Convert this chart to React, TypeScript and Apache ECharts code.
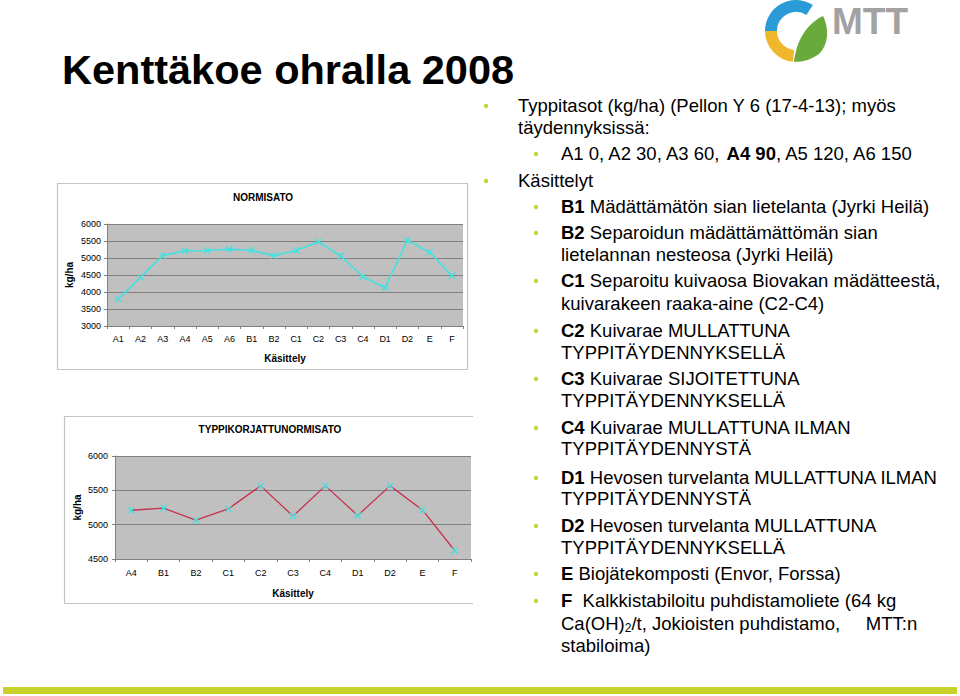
import React, { useEffect, useRef } from "react";
import * as echarts from "echarts";

// ---------- data ----------
const topCategories = ["A1", "A2", "A3", "A4", "A5", "A6", "B1", "B2", "C1", "C2", "C3", "C4", "D1", "D2", "E", "F"];
const topValues = [3790, 4430, 5070, 5210, 5220, 5260, 5220, 5070, 5220, 5480, 5060, 4450, 4125, 5520, 5170, 4480];
const bottomCategories = ["A4", "B1", "B2", "C1", "C2", "C3", "C4", "D1", "D2", "E", "F"];
const bottomValues = [5210, 5240, 5065, 5230, 5565, 5125, 5565, 5135, 5565, 5215, 4620];

const topTitle = "NORMISATO";
const bottomTitle = "TYPPIKORJATTUNORMISATO";
const yAxisName = "kg/ha";
const xAxisName = "Käsittely";
const slideTitle = "Kenttäkoe ohralla 2008";

type Seg = [string, string];
type Line = { level: 1 | 2; y: number; bullet?: boolean; parts: Seg[] };
const textLines: Line[] = [
  { level: 1, y: 105, bullet: true, parts: [["n", "Typpitasot (kg/ha) (Pellon Y 6 (17-4-13); myös"]] },
  { level: 1, y: 127, parts: [["n", "täydennyksissä:"]] },
  { level: 2, y: 153, bullet: true, parts: [["n", "A1 0, A2 30, A3 60, "], ["b", "A4 90"], ["n", ", A5 120, A6 150"]] },
  { level: 1, y: 180, bullet: true, parts: [["n", "Käsittelyt"]] },
  { level: 2, y: 206, bullet: true, parts: [["b", "B1"], ["n", " Mädättämätön sian lietelanta (Jyrki Heilä)"]] },
  { level: 2, y: 232, bullet: true, parts: [["b", "B2"], ["n", " Separoidun mädättämättömän sian"]] },
  { level: 2, y: 254, parts: [["n", "lietelannan nesteosa (Jyrki Heilä)"]] },
  { level: 2, y: 280, bullet: true, parts: [["b", "C1"], ["n", " Separoitu kuivaosa Biovakan mädätteestä,"]] },
  { level: 2, y: 303, parts: [["n", "kuivarakeen raaka-aine (C2-C4)"]] },
  { level: 2, y: 330, bullet: true, parts: [["b", "C2"], ["n", " Kuivarae MULLATTUNA"]] },
  { level: 2, y: 352, parts: [["n", "TYPPITÄYDENNYKSELLÄ"]] },
  { level: 2, y: 378, bullet: true, parts: [["b", "C3"], ["n", " Kuivarae SIJOITETTUNA"]] },
  { level: 2, y: 400, parts: [["n", "TYPPITÄYDENNYKSELLÄ"]] },
  { level: 2, y: 427, bullet: true, parts: [["b", "C4"], ["n", " Kuivarae MULLATTUNA ILMAN"]] },
  { level: 2, y: 448, parts: [["n", "TYPPITÄYDENNYSTÄ"]] },
  { level: 2, y: 477, bullet: true, parts: [["b", "D1"], ["n", " Hevosen turvelanta MULLATTUNA ILMAN"]] },
  { level: 2, y: 498, parts: [["n", "TYPPITÄYDENNYSTÄ"]] },
  { level: 2, y: 525, bullet: true, parts: [["b", "D2"], ["n", " Hevosen turvelanta MULLATTUNA"]] },
  { level: 2, y: 547, parts: [["n", "TYPPITÄYDENNYKSELLÄ"]] },
  { level: 2, y: 573, bullet: true, parts: [["b", "E"], ["n", " Biojätekomposti (Envor, Forssa)"]] },
  { level: 2, y: 600, bullet: true, parts: [["b", "F"], ["n", "  Kalkkistabiloitu puhdistamoliete (64 kg"]] },
  { level: 2, y: 623, parts: [["n", "Ca(OH)"], ["s", "2"], ["n", "/t, Jokioisten puhdistamo,     MTT:n"]] },
  { level: 2, y: 645, parts: [["n", "stabiloima)"]] },
];

const FONT = '"Liberation Sans", Arial, Helvetica, sans-serif';

const leafPath = "M794 62 C796 42 806 24 823 16 C829 28 829 44 819 54 C812 59 804 62 794 62 Z";
echarts.graphic.registerShape("leaf", (echarts.graphic as any).extendPath(leafPath, {}));

const crossSymbol = "path://M0,0L10,10M10,0L0,10";

function axisCommon() {
  return {
    axisLine: { show: true, lineStyle: { color: "#808080", width: 1 } },
    axisTick: { show: true, length: 3, lineStyle: { color: "#808080" } },
    axisLabel: { color: "#000", fontSize: 9, fontFamily: FONT },
    nameTextStyle: { color: "#000", fontSize: 10, fontWeight: "bold" as const, fontFamily: FONT },
  };
}

export default function App() {
  const ref = useRef<HTMLDivElement>(null);
  useEffect(() => {
    const chart = echarts.init(ref.current!, null, { renderer: "svg", width: 960, height: 696 });

    const graphics: any[] = [];
    // frames
    graphics.push({
      type: "rect",
      shape: { x: 57.5, y: 183.5, width: 410, height: 186 },
      style: { fill: "none", stroke: "#c4c4c4", lineWidth: 1.2 },
      z: 0,
    });
    graphics.push({
      type: "polyline",
      shape: { points: [[473, 416.5], [64.5, 416.5], [64.5, 603.5], [473, 603.5]] },
      style: { fill: "none", stroke: "#c4c4c4", lineWidth: 1.2 },
      z: 0,
    });
    // chart titles
    graphics.push({
      type: "text",
      x: 263,
      y: 197,
      style: { text: topTitle, align: "center", verticalAlign: "middle", fill: "#000", fontSize: 10, fontWeight: "bold", fontFamily: FONT },
    });
    graphics.push({
      type: "text",
      x: 270,
      y: 429,
      style: { text: bottomTitle, align: "center", verticalAlign: "middle", fill: "#000", fontSize: 10, fontWeight: "bold", fontFamily: FONT },
    });
    // slide title
    graphics.push({
      type: "text",
      x: 62,
      y: 69,
      style: { text: slideTitle, align: "left", verticalAlign: "middle", fill: "#000", fontSize: 41.5, fontWeight: "bold", fontFamily: FONT },
    });
    // logo
    graphics.push({
      type: "sector",
      shape: { cx: 796, cy: 31, r: 31, r0: 19, startAngle: Math.PI, endAngle: Math.PI * 1.683 },
      style: { fill: "#2b9bd7" },
    });
    graphics.push({
      type: "sector",
      shape: { cx: 796, cy: 31, r: 31, r0: 19, startAngle: Math.PI * 0.53, endAngle: Math.PI },
      style: { fill: "#efb72c" },
    });
    graphics.push({ type: "leaf", x: 0, y: 0, scaleX: 1, scaleY: 1, style: { fill: "#6aaa3c" } });
    graphics.push({
      type: "text",
      x: 832,
      y: 21.5,
      style: {
        text: "MTT",
        align: "left",
        verticalAlign: "middle",
        fill: "#a2a2a2",
        fontSize: 37,
        lineHeight: 30,
        fontWeight: "bold",
        fontFamily: FONT,
      },
    });
    // bottom bar
    graphics.push({ type: "rect", shape: { x: 3, y: 687, width: 954, height: 7 }, style: { fill: "#c8d22a" } });

    // bullet text
    const FS = 18.5;
    const rich = {
      n: { fontSize: FS, fontFamily: FONT, color: "#000", lineHeight: 22 },
      b: { fontSize: FS, fontFamily: FONT, fontWeight: "bold", color: "#000", lineHeight: 22 },
      s: { fontSize: 12, fontFamily: FONT, color: "#000", lineHeight: 8, verticalAlign: "bottom" },
    };
    textLines.forEach((ln) => {
      const tx = ln.level === 1 ? 518 : 561;
      const bx = ln.level === 1 ? 486 : 536;
      if (ln.bullet) {
        graphics.push({ type: "circle", shape: { cx: bx, cy: ln.y + 1, r: 2.2 }, style: { fill: "#c3d43c" } });
      }
      const str = ln.parts.map(([k, t]) => `{${k}|${t}}`).join("");
      graphics.push({
        type: "text",
        x: tx,
        y: ln.y,
        style: { text: str, rich, align: "left", verticalAlign: "middle", fontSize: FS, fontFamily: FONT, fill: "#000" },
      });
    });

    const plain = (v: number) => String(v);

    const option: any = {
      animation: false,
      backgroundColor: "#fff",
      textStyle: { fontFamily: FONT },
      grid: [
        { left: 107, top: 224, width: 356, height: 102, show: true, backgroundColor: "#c0c0c0", borderWidth: 0 },
        { left: 115, top: 456, width: 356, height: 103, show: true, backgroundColor: "#c0c0c0", borderWidth: 0 },
      ],
      xAxis: [
        {
          ...axisCommon(),
          type: "category",
          gridIndex: 0,
          data: topCategories,
          boundaryGap: true,
          name: xAxisName,
          nameLocation: "middle",
          nameGap: 27,
          axisLabel: { ...axisCommon().axisLabel, margin: 8, interval: 0 },
        },
        {
          ...axisCommon(),
          type: "category",
          gridIndex: 1,
          data: bottomCategories,
          boundaryGap: true,
          name: xAxisName,
          nameLocation: "middle",
          nameGap: 29,
          axisLabel: { ...axisCommon().axisLabel, margin: 9, interval: 0 },
        },
      ],
      yAxis: [
        {
          ...axisCommon(),
          type: "value",
          gridIndex: 0,
          min: 3000,
          max: 6000,
          interval: 500,
          name: yAxisName,
          nameLocation: "middle",
          nameRotate: 90,
          nameGap: 33,
          splitLine: { show: true, lineStyle: { color: "#808080", width: 1 } },
          axisLabel: { ...axisCommon().axisLabel, margin: 6, formatter: plain },
        },
        {
          ...axisCommon(),
          type: "value",
          gridIndex: 1,
          min: 4500,
          max: 6000,
          interval: 500,
          name: yAxisName,
          nameLocation: "middle",
          nameRotate: 90,
          nameGap: 33,
          splitLine: { show: true, lineStyle: { color: "#808080", width: 1 } },
          axisLabel: { ...axisCommon().axisLabel, margin: 7, formatter: plain },
        },
      ],
      series: [
        {
          type: "line",
          xAxisIndex: 0,
          yAxisIndex: 0,
          data: topValues,
          symbol: crossSymbol,
          symbolSize: 6,
          lineStyle: { color: "#45e0e0", width: 1.6 },
          itemStyle: { color: "#45e0e0", borderColor: "#45e0e0", borderWidth: 1.4 },
        },
        {
          type: "line",
          xAxisIndex: 1,
          yAxisIndex: 1,
          data: bottomValues,
          symbol: crossSymbol,
          symbolSize: 6,
          lineStyle: { color: "#c8304c", width: 1.3 },
          itemStyle: { color: "#45e0e0", borderColor: "#45e0e0", borderWidth: 1.4 },
        },
      ],
      graphic: graphics,
    };
    chart.setOption(option);
    return () => chart.dispose();
  }, []);
  return (
    <div
      ref={ref}
      style={{ position: "absolute", left: 0, top: 0, width: 960, height: 696, background: "#fff" }}
    />
  );
}
